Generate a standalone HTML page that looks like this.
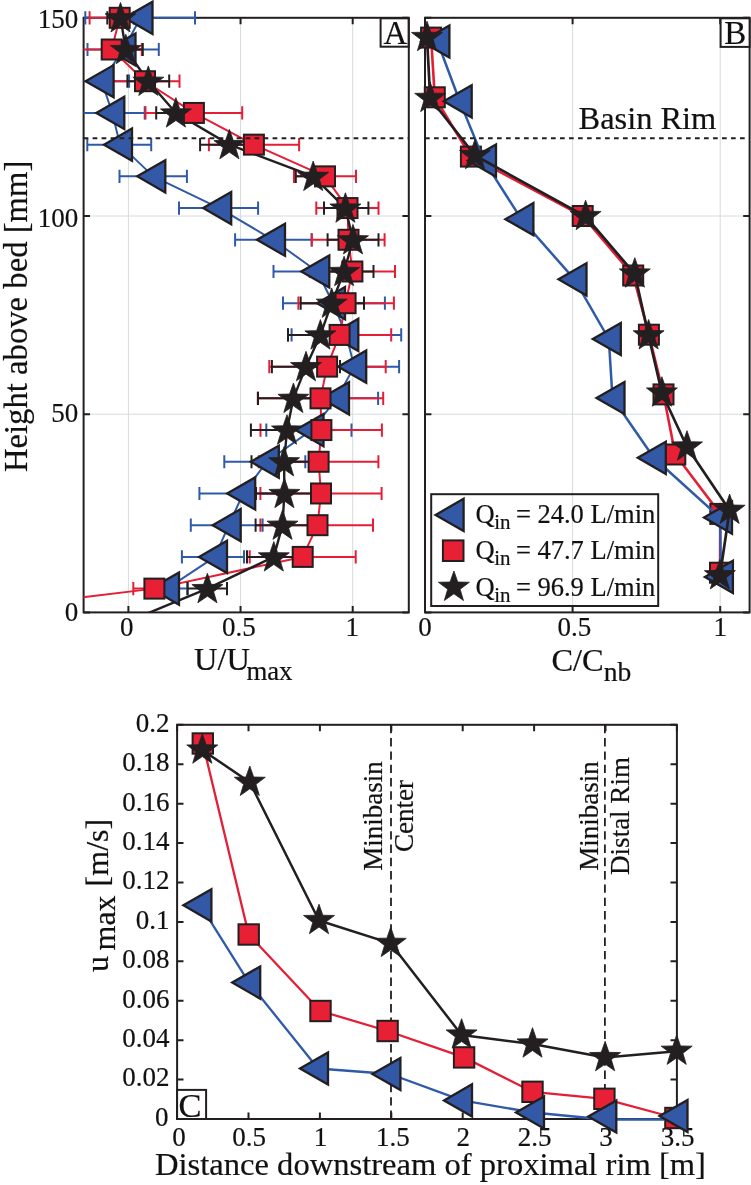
<!DOCTYPE html>
<html><head><meta charset="utf-8"><title>figure</title><style>html,body{margin:0;padding:0;background:#fff;}svg{display:block;will-change:transform;}text{stroke:#111;stroke-width:0.2px;}</style></head><body>
<svg width="751" height="1185" viewBox="0 0 751 1185" font-family="'Liberation Serif', serif" fill="#111">
<rect width="751" height="1185" fill="#fff"/>
<defs><clipPath id="cA"><rect x="83.6" y="0" width="325.2" height="612.4"/></clipPath></defs>
<path d="M128.4,17.8V612.4M240.55,17.8V612.4M352.7,17.8V612.4M572.6,17.8V612.4M720.2,17.8V612.4M83.6,414.2H408.8M425.0,414.2H749.6M83.6,216H408.8M425.0,216H749.6" stroke="#d6dbde" stroke-width="1" fill="none"/>
<rect x="83.6" y="17.8" width="325.2" height="594.6" fill="none" stroke="#231f20" stroke-width="2"/>
<rect x="425.0" y="17.8" width="324.6" height="594.6" fill="none" stroke="#231f20" stroke-width="2"/>
<rect x="177.1" y="724.8" width="499.8" height="394.2" fill="none" stroke="#231f20" stroke-width="2"/>
<path d="M128.4,612.4v-6.4M128.4,17.8v6.4M240.55,612.4v-6.4M240.55,17.8v6.4M352.7,612.4v-6.4M352.7,17.8v6.4M425,612.4v-6.4M425,17.8v6.4M572.6,612.4v-6.4M572.6,17.8v6.4M720.2,612.4v-6.4M720.2,17.8v6.4M83.6,612.4h6.4M408.8,612.4h-6.4M425.0,612.4h6.4M749.6,612.4h-6.4M83.6,414.2h6.4M408.8,414.2h-6.4M425.0,414.2h6.4M749.6,414.2h-6.4M83.6,216h6.4M408.8,216h-6.4M425.0,216h6.4M749.6,216h-6.4M83.6,17.8h6.4M408.8,17.8h-6.4M425.0,17.8h6.4M749.6,17.8h-6.4M177.1,1119.0v-6.4M177.1,724.8v6.4M248.5,1119.0v-6.4M248.5,724.8v6.4M319.9,1119.0v-6.4M319.9,724.8v6.4M391.3,1119.0v-6.4M391.3,724.8v6.4M462.7,1119.0v-6.4M462.7,724.8v6.4M534.1,1119.0v-6.4M534.1,724.8v6.4M605.5,1119.0v-6.4M605.5,724.8v6.4M676.9,1119.0v-6.4M676.9,724.8v6.4M177.1,1119h6.4M676.9,1119h-6.4M177.1,1079.58h6.4M676.9,1079.58h-6.4M177.1,1040.16h6.4M676.9,1040.16h-6.4M177.1,1000.74h6.4M676.9,1000.74h-6.4M177.1,961.32h6.4M676.9,961.32h-6.4M177.1,921.9h6.4M676.9,921.9h-6.4M177.1,882.48h6.4M676.9,882.48h-6.4M177.1,843.06h6.4M676.9,843.06h-6.4M177.1,803.64h6.4M676.9,803.64h-6.4M177.1,764.22h6.4M676.9,764.22h-6.4M177.1,724.8h6.4M676.9,724.8h-6.4" stroke="#231f20" stroke-width="2" fill="none"/>
<text x="78.3" y="27.7" font-size="27" text-anchor="end" >150</text>
<text x="78.3" y="226.9" font-size="27" text-anchor="end" >100</text>
<text x="78.3" y="422.2" font-size="27" text-anchor="end" >50</text>
<text x="78.3" y="620.7" font-size="27" text-anchor="end" >0</text>
<text x="126.8" y="635.9" font-size="27" text-anchor="middle" >0</text>
<text x="238.75" y="635.9" font-size="27" text-anchor="middle" >0.5</text>
<text x="352.3" y="635.9" font-size="27" text-anchor="middle" >1</text>
<text x="425" y="635.9" font-size="27" text-anchor="middle" >0</text>
<text x="574.4" y="635.9" font-size="27" text-anchor="middle" >0.5</text>
<text x="720.2" y="635.9" font-size="27" text-anchor="middle" >1</text>
<text x="168.4" y="1125.9" font-size="27" text-anchor="end" >0</text>
<text x="169.6" y="1086.48" font-size="27" text-anchor="end" >0.02</text>
<text x="169.6" y="1047.06" font-size="27" text-anchor="end" >0.04</text>
<text x="169.6" y="1007.64" font-size="27" text-anchor="end" >0.06</text>
<text x="169.6" y="968.22" font-size="27" text-anchor="end" >0.08</text>
<text x="169.6" y="928.8" font-size="27" text-anchor="end" >0.1</text>
<text x="169.6" y="889.38" font-size="27" text-anchor="end" >0.12</text>
<text x="169.6" y="849.96" font-size="27" text-anchor="end" >0.14</text>
<text x="169.6" y="810.54" font-size="27" text-anchor="end" >0.16</text>
<text x="169.6" y="771.12" font-size="27" text-anchor="end" >0.18</text>
<text x="169.6" y="731.7" font-size="27" text-anchor="end" >0.2</text>
<text x="179.1" y="1146" font-size="27" text-anchor="middle" >0</text>
<text x="249.1" y="1146" font-size="27" text-anchor="middle" >0.5</text>
<text x="320.5" y="1146" font-size="27" text-anchor="middle" >1</text>
<text x="392.8" y="1146" font-size="27" text-anchor="middle" >1.5</text>
<text x="463.3" y="1146" font-size="27" text-anchor="middle" >2</text>
<text x="534.7" y="1146" font-size="27" text-anchor="middle" >2.5</text>
<text x="606.1" y="1146" font-size="27" text-anchor="middle" >3</text>
<text x="677.5" y="1146" font-size="27" text-anchor="middle" >3.5</text>
<path d="M391,724.8V1119.0M604.9,724.8V1119.0" stroke="#231f20" stroke-width="1.8" stroke-dasharray="8.4 4.9" fill="none"/>
<g clip-path="url(#cA)">
<path d="M85.3,17.8H195M85.3,11.2V24.4M195,11.2V24.4" stroke="#2f5aa8" stroke-width="2.0" fill="none"/>
<path d="M87.5,49.51H158.8M87.5,42.91V56.11M158.8,42.91V56.11" stroke="#2f5aa8" stroke-width="2.0" fill="none"/>
<path d="M70,81.22H129.1M70,74.62V87.82M129.1,74.62V87.82" stroke="#2f5aa8" stroke-width="2.0" fill="none"/>
<path d="M76,112.94H144.7M76,106.34V119.54M144.7,106.34V119.54" stroke="#2f5aa8" stroke-width="2.0" fill="none"/>
<path d="M87.3,144.65H151.2M87.3,138.05V151.25M151.2,138.05V151.25" stroke="#2f5aa8" stroke-width="2.0" fill="none"/>
<path d="M119.5,176.36H186.9M119.5,169.76V182.96M186.9,169.76V182.96" stroke="#2f5aa8" stroke-width="2.0" fill="none"/>
<path d="M179,208.07H258.1M179,201.47V214.67M258.1,201.47V214.67" stroke="#2f5aa8" stroke-width="2.0" fill="none"/>
<path d="M235.1,239.78H311.7M235.1,233.18V246.38M311.7,233.18V246.38" stroke="#2f5aa8" stroke-width="2.0" fill="none"/>
<path d="M273.5,271.5H357M273.5,264.9V278.1M357,264.9V278.1" stroke="#2f5aa8" stroke-width="2.0" fill="none"/>
<path d="M283,303.21H384.9M283,296.61V309.81M384.9,296.61V309.81" stroke="#2f5aa8" stroke-width="2.0" fill="none"/>
<path d="M291.6,334.92H401.2M291.6,328.32V341.52M401.2,328.32V341.52" stroke="#2f5aa8" stroke-width="2.0" fill="none"/>
<path d="M305,366.63H399.1M305,360.03V373.23M399.1,360.03V373.23" stroke="#2f5aa8" stroke-width="2.0" fill="none"/>
<path d="M292,398.34H378.1M292,391.74V404.94M378.1,391.74V404.94" stroke="#2f5aa8" stroke-width="2.0" fill="none"/>
<path d="M266.3,430.06H351.5M266.3,423.46V436.66M351.5,423.46V436.66" stroke="#2f5aa8" stroke-width="2.0" fill="none"/>
<path d="M224.3,461.77H305.3M224.3,455.17V468.37M305.3,455.17V468.37" stroke="#2f5aa8" stroke-width="2.0" fill="none"/>
<path d="M199.4,493.48H283M199.4,486.88V500.08M283,486.88V500.08" stroke="#2f5aa8" stroke-width="2.0" fill="none"/>
<path d="M190.8,525.19H262.6M190.8,518.59V531.79M262.6,518.59V531.79" stroke="#2f5aa8" stroke-width="2.0" fill="none"/>
<path d="M181.9,556.9H244M181.9,550.3V563.5M244,550.3V563.5" stroke="#2f5aa8" stroke-width="2.0" fill="none"/>
<path d="M146.6,588.62H187.4M146.6,582.02V595.22M187.4,582.02V595.22" stroke="#2f5aa8" stroke-width="2.0" fill="none"/>
<polyline points="140.5,17.8 123.5,49.51 101.6,81.22 112.3,112.94 120,144.65 153.3,176.36 219.2,208.07 273,239.78 317.3,271.5 333,303.21 346.3,334.92 354.2,366.63 337,398.34 311.5,430.06 266.8,461.77 243.2,493.48 228.7,525.19 215,556.9 167,588.62" fill="none" stroke="#2f5aa8" stroke-width="2" stroke-linejoin="round"/>
<path d="M89.6,17.8H149.8M89.6,11.2V24.4M149.8,11.2V24.4" stroke="#e41e35" stroke-width="2.0" fill="none"/>
<path d="M81.7,49.51H141.8M81.7,42.91V56.11M141.8,42.91V56.11" stroke="#e41e35" stroke-width="2.0" fill="none"/>
<path d="M113,81.22H179.5M113,74.62V87.82M179.5,74.62V87.82" stroke="#e41e35" stroke-width="2.0" fill="none"/>
<path d="M145.5,112.94H242.2M145.5,106.34V119.54M242.2,106.34V119.54" stroke="#e41e35" stroke-width="2.0" fill="none"/>
<path d="M208.9,144.65H299.1M208.9,138.05V151.25M299.1,138.05V151.25" stroke="#e41e35" stroke-width="2.0" fill="none"/>
<path d="M294,176.36H356M294,169.76V182.96M356,169.76V182.96" stroke="#e41e35" stroke-width="2.0" fill="none"/>
<path d="M316.3,208.07H378.5M316.3,201.47V214.67M378.5,201.47V214.67" stroke="#e41e35" stroke-width="2.0" fill="none"/>
<path d="M311.7,239.78H384.6M311.7,233.18V246.38M384.6,233.18V246.38" stroke="#e41e35" stroke-width="2.0" fill="none"/>
<path d="M309.8,271.5H395M309.8,264.9V278.1M395,264.9V278.1" stroke="#e41e35" stroke-width="2.0" fill="none"/>
<path d="M298.4,303.21H393.9M298.4,296.61V309.81M393.9,296.61V309.81" stroke="#e41e35" stroke-width="2.0" fill="none"/>
<path d="M288,334.92H391.2M288,328.32V341.52M391.2,328.32V341.52" stroke="#e41e35" stroke-width="2.0" fill="none"/>
<path d="M269.3,366.63H385.7M269.3,360.03V373.23M385.7,360.03V373.23" stroke="#e41e35" stroke-width="2.0" fill="none"/>
<path d="M257.8,398.34H383.2M257.8,391.74V404.94M383.2,391.74V404.94" stroke="#e41e35" stroke-width="2.0" fill="none"/>
<path d="M260.5,430.06H381.9M260.5,423.46V436.66M381.9,423.46V436.66" stroke="#e41e35" stroke-width="2.0" fill="none"/>
<path d="M258.8,461.77H378.4M258.8,455.17V468.37M378.4,455.17V468.37" stroke="#e41e35" stroke-width="2.0" fill="none"/>
<path d="M260.4,493.48H381.6M260.4,486.88V500.08M381.6,486.88V500.08" stroke="#e41e35" stroke-width="2.0" fill="none"/>
<path d="M260.4,525.19H373M260.4,518.59V531.79M373,518.59V531.79" stroke="#e41e35" stroke-width="2.0" fill="none"/>
<path d="M249.7,556.9H355.7M249.7,550.3V563.5M355.7,550.3V563.5" stroke="#e41e35" stroke-width="2.0" fill="none"/>
<path d="M133.3,588.62H175.5M133.3,582.02V595.22M175.5,582.02V595.22" stroke="#e41e35" stroke-width="2.0" fill="none"/>
<polyline points="-90,617.93 154.4,588.62 302.7,556.9 317.5,525.19 321,493.48 318.6,461.77 321.4,430.06 320.5,398.34 327.1,366.63 339.6,334.92 345.6,303.21 352.4,271.5 348.5,239.78 347.5,208.07 325,176.36 253.9,144.65 193.9,112.94 145,81.22 111.7,49.51 119.7,17.8" fill="none" stroke="#e41e35" stroke-width="2" stroke-linejoin="round"/>
<path d="M107.3,17.8H133.7M107.3,11.2V24.4M133.7,11.2V24.4" stroke="#231f20" stroke-width="2.0" fill="none"/>
<path d="M108.8,49.51H142.8M108.8,42.91V56.11M142.8,42.91V56.11" stroke="#231f20" stroke-width="2.0" fill="none"/>
<path d="M127.4,81.22H169.2M127.4,74.62V87.82M169.2,74.62V87.82" stroke="#231f20" stroke-width="2.0" fill="none"/>
<path d="M156.2,112.94H195.6M156.2,106.34V119.54M195.6,106.34V119.54" stroke="#231f20" stroke-width="2.0" fill="none"/>
<path d="M200.1,144.65H258.7M200.1,138.05V151.25M258.7,138.05V151.25" stroke="#231f20" stroke-width="2.0" fill="none"/>
<path d="M295.8,176.36H330.6M295.8,169.76V182.96M330.6,169.76V182.96" stroke="#231f20" stroke-width="2.0" fill="none"/>
<path d="M324,208.07H368.4M324,201.47V214.67M368.4,201.47V214.67" stroke="#231f20" stroke-width="2.0" fill="none"/>
<path d="M327.6,239.78H378.5M327.6,233.18V246.38M378.5,233.18V246.38" stroke="#231f20" stroke-width="2.0" fill="none"/>
<path d="M314.5,271.5H373.5M314.5,264.9V278.1M373.5,264.9V278.1" stroke="#231f20" stroke-width="2.0" fill="none"/>
<path d="M300.7,303.21H364M300.7,296.61V309.81M364,296.61V309.81" stroke="#231f20" stroke-width="2.0" fill="none"/>
<path d="M288,334.92H352.8M288,328.32V341.52M352.8,328.32V341.52" stroke="#231f20" stroke-width="2.0" fill="none"/>
<path d="M271.9,366.63H340M271.9,360.03V373.23M340,360.03V373.23" stroke="#231f20" stroke-width="2.0" fill="none"/>
<path d="M258,398.34H328.8M258,391.74V404.94M328.8,391.74V404.94" stroke="#231f20" stroke-width="2.0" fill="none"/>
<path d="M250.9,430.06H323M250.9,423.46V436.66M323,423.46V436.66" stroke="#231f20" stroke-width="2.0" fill="none"/>
<path d="M251.5,461.77H316.5M251.5,455.17V468.37M316.5,455.17V468.37" stroke="#231f20" stroke-width="2.0" fill="none"/>
<path d="M256,493.48H312M256,486.88V500.08M312,486.88V500.08" stroke="#231f20" stroke-width="2.0" fill="none"/>
<path d="M255.6,525.19H309.4M255.6,518.59V531.79M309.4,518.59V531.79" stroke="#231f20" stroke-width="2.0" fill="none"/>
<path d="M247,556.9H300.6M247,550.3V563.5M300.6,550.3V563.5" stroke="#231f20" stroke-width="2.0" fill="none"/>
<path d="M187.6,588.62H227M187.6,582.02V595.22M227,582.02V595.22" stroke="#231f20" stroke-width="2.0" fill="none"/>
<polyline points="120.5,17.8 125.8,49.51 148.3,81.22 175.9,112.94 229.4,144.65 313.2,176.36 345.4,208.07 353,239.78 344.1,271.5 331.7,303.21 320.4,334.92 306,366.63 293.4,398.34 287,430.06 284.1,461.77 284.4,493.48 282.5,525.19 273.8,556.9 207.4,588.62 62.2,648.62" fill="none" stroke="#231f20" stroke-width="2.4" stroke-linejoin="round"/>
</g>
<path d="M124.5,17.8L152.5,1.7L152.5,33.9Z" fill="#3359a6" stroke="#231f20" stroke-width="2.3" stroke-miterlimit="10"/>
<path d="M107.5,49.51L135.5,33.41L135.5,65.61Z" fill="#3359a6" stroke="#231f20" stroke-width="2.3" stroke-miterlimit="10"/>
<path d="M85.6,81.22L113.6,65.12L113.6,97.32Z" fill="#3359a6" stroke="#231f20" stroke-width="2.3" stroke-miterlimit="10"/>
<path d="M96.3,112.94L124.3,96.84L124.3,129.04Z" fill="#3359a6" stroke="#231f20" stroke-width="2.3" stroke-miterlimit="10"/>
<path d="M104,144.65L132,128.55L132,160.75Z" fill="#3359a6" stroke="#231f20" stroke-width="2.3" stroke-miterlimit="10"/>
<path d="M137.3,176.36L165.3,160.26L165.3,192.46Z" fill="#3359a6" stroke="#231f20" stroke-width="2.3" stroke-miterlimit="10"/>
<path d="M203.2,208.07L231.2,191.97L231.2,224.17Z" fill="#3359a6" stroke="#231f20" stroke-width="2.3" stroke-miterlimit="10"/>
<path d="M257,239.78L285,223.68L285,255.88Z" fill="#3359a6" stroke="#231f20" stroke-width="2.3" stroke-miterlimit="10"/>
<path d="M301.3,271.5L329.3,255.4L329.3,287.6Z" fill="#3359a6" stroke="#231f20" stroke-width="2.3" stroke-miterlimit="10"/>
<path d="M317,303.21L345,287.11L345,319.31Z" fill="#3359a6" stroke="#231f20" stroke-width="2.3" stroke-miterlimit="10"/>
<path d="M330.3,334.92L358.3,318.82L358.3,351.02Z" fill="#3359a6" stroke="#231f20" stroke-width="2.3" stroke-miterlimit="10"/>
<path d="M338.2,366.63L366.2,350.53L366.2,382.73Z" fill="#3359a6" stroke="#231f20" stroke-width="2.3" stroke-miterlimit="10"/>
<path d="M321,398.34L349,382.24L349,414.44Z" fill="#3359a6" stroke="#231f20" stroke-width="2.3" stroke-miterlimit="10"/>
<path d="M295.5,430.06L323.5,413.96L323.5,446.16Z" fill="#3359a6" stroke="#231f20" stroke-width="2.3" stroke-miterlimit="10"/>
<path d="M250.8,461.77L278.8,445.67L278.8,477.87Z" fill="#3359a6" stroke="#231f20" stroke-width="2.3" stroke-miterlimit="10"/>
<path d="M227.2,493.48L255.2,477.38L255.2,509.58Z" fill="#3359a6" stroke="#231f20" stroke-width="2.3" stroke-miterlimit="10"/>
<path d="M212.7,525.19L240.7,509.09L240.7,541.29Z" fill="#3359a6" stroke="#231f20" stroke-width="2.3" stroke-miterlimit="10"/>
<path d="M199,556.9L227,540.8L227,573Z" fill="#3359a6" stroke="#231f20" stroke-width="2.3" stroke-miterlimit="10"/>
<path d="M151,588.62L179,572.52L179,604.72Z" fill="#3359a6" stroke="#231f20" stroke-width="2.3" stroke-miterlimit="10"/>
<rect x="109.7" y="7.8" width="20" height="20" fill="#e82036" stroke="#231f20" stroke-width="2.0"/>
<rect x="101.7" y="39.51" width="20" height="20" fill="#e82036" stroke="#231f20" stroke-width="2.0"/>
<rect x="135" y="71.22" width="20" height="20" fill="#e82036" stroke="#231f20" stroke-width="2.0"/>
<rect x="183.9" y="102.94" width="20" height="20" fill="#e82036" stroke="#231f20" stroke-width="2.0"/>
<rect x="243.9" y="134.65" width="20" height="20" fill="#e82036" stroke="#231f20" stroke-width="2.0"/>
<rect x="315" y="166.36" width="20" height="20" fill="#e82036" stroke="#231f20" stroke-width="2.0"/>
<rect x="337.5" y="198.07" width="20" height="20" fill="#e82036" stroke="#231f20" stroke-width="2.0"/>
<rect x="338.5" y="229.78" width="20" height="20" fill="#e82036" stroke="#231f20" stroke-width="2.0"/>
<rect x="342.4" y="261.5" width="20" height="20" fill="#e82036" stroke="#231f20" stroke-width="2.0"/>
<rect x="335.6" y="293.21" width="20" height="20" fill="#e82036" stroke="#231f20" stroke-width="2.0"/>
<rect x="329.6" y="324.92" width="20" height="20" fill="#e82036" stroke="#231f20" stroke-width="2.0"/>
<rect x="317.1" y="356.63" width="20" height="20" fill="#e82036" stroke="#231f20" stroke-width="2.0"/>
<rect x="310.5" y="388.34" width="20" height="20" fill="#e82036" stroke="#231f20" stroke-width="2.0"/>
<rect x="311.4" y="420.06" width="20" height="20" fill="#e82036" stroke="#231f20" stroke-width="2.0"/>
<rect x="308.6" y="451.77" width="20" height="20" fill="#e82036" stroke="#231f20" stroke-width="2.0"/>
<rect x="311" y="483.48" width="20" height="20" fill="#e82036" stroke="#231f20" stroke-width="2.0"/>
<rect x="307.5" y="515.19" width="20" height="20" fill="#e82036" stroke="#231f20" stroke-width="2.0"/>
<rect x="292.7" y="546.9" width="20" height="20" fill="#e82036" stroke="#231f20" stroke-width="2.0"/>
<rect x="144.4" y="578.62" width="20" height="20" fill="#e82036" stroke="#231f20" stroke-width="2.0"/>
<polygon points="120.5,2.5 124.33,13.53 136,13.76 126.7,20.81 130.08,31.99 120.5,25.32 110.92,31.99 114.3,20.81 105,13.76 116.67,13.53" fill="#231f20" stroke="#231f20" stroke-width="0.8"/>
<polygon points="125.8,34.21 129.63,45.24 141.3,45.48 132,52.53 135.38,63.7 125.8,57.03 116.22,63.7 119.6,52.53 110.3,45.48 121.97,45.24" fill="#231f20" stroke="#231f20" stroke-width="0.8"/>
<polygon points="148.3,65.92 152.13,76.95 163.8,77.19 154.5,84.24 157.88,95.41 148.3,88.74 138.72,95.41 142.1,84.24 132.8,77.19 144.47,76.95" fill="#231f20" stroke="#231f20" stroke-width="0.8"/>
<polygon points="175.9,97.64 179.73,108.66 191.4,108.9 182.1,115.95 185.48,127.12 175.9,120.46 166.32,127.12 169.7,115.95 160.4,108.9 172.07,108.66" fill="#231f20" stroke="#231f20" stroke-width="0.8"/>
<polygon points="229.4,129.35 233.23,140.37 244.9,140.61 235.6,147.66 238.98,158.83 229.4,152.17 219.82,158.83 223.2,147.66 213.9,140.61 225.57,140.37" fill="#231f20" stroke="#231f20" stroke-width="0.8"/>
<polygon points="313.2,161.06 317.03,172.09 328.7,172.32 319.4,179.37 322.78,190.55 313.2,183.88 303.62,190.55 307,179.37 297.7,172.32 309.37,172.09" fill="#231f20" stroke="#231f20" stroke-width="0.8"/>
<polygon points="345.4,192.77 349.23,203.8 360.9,204.04 351.6,211.09 354.98,222.26 345.4,215.59 335.82,222.26 339.2,211.09 329.9,204.04 341.57,203.8" fill="#231f20" stroke="#231f20" stroke-width="0.8"/>
<polygon points="353,224.48 356.83,235.51 368.5,235.75 359.2,242.8 362.58,253.97 353,247.3 343.42,253.97 346.8,242.8 337.5,235.75 349.17,235.51" fill="#231f20" stroke="#231f20" stroke-width="0.8"/>
<polygon points="344.1,256.2 347.93,267.22 359.6,267.46 350.3,274.51 353.68,285.68 344.1,279.02 334.52,285.68 337.9,274.51 328.6,267.46 340.27,267.22" fill="#231f20" stroke="#231f20" stroke-width="0.8"/>
<polygon points="331.7,287.91 335.53,298.93 347.2,299.17 337.9,306.22 341.28,317.39 331.7,310.73 322.12,317.39 325.5,306.22 316.2,299.17 327.87,298.93" fill="#231f20" stroke="#231f20" stroke-width="0.8"/>
<polygon points="320.4,319.62 324.23,330.65 335.9,330.88 326.6,337.93 329.98,349.11 320.4,342.44 310.82,349.11 314.2,337.93 304.9,330.88 316.57,330.65" fill="#231f20" stroke="#231f20" stroke-width="0.8"/>
<polygon points="306,351.33 309.83,362.36 321.5,362.6 312.2,369.65 315.58,380.82 306,374.15 296.42,380.82 299.8,369.65 290.5,362.6 302.17,362.36" fill="#231f20" stroke="#231f20" stroke-width="0.8"/>
<polygon points="293.4,383.04 297.23,394.07 308.9,394.31 299.6,401.36 302.98,412.53 293.4,405.86 283.82,412.53 287.2,401.36 277.9,394.31 289.57,394.07" fill="#231f20" stroke="#231f20" stroke-width="0.8"/>
<polygon points="287,414.76 290.83,425.78 302.5,426.02 293.2,433.07 296.58,444.24 287,437.58 277.42,444.24 280.8,433.07 271.5,426.02 283.17,425.78" fill="#231f20" stroke="#231f20" stroke-width="0.8"/>
<polygon points="284.1,446.47 287.93,457.49 299.6,457.73 290.3,464.78 293.68,475.95 284.1,469.29 274.52,475.95 277.9,464.78 268.6,457.73 280.27,457.49" fill="#231f20" stroke="#231f20" stroke-width="0.8"/>
<polygon points="284.4,478.18 288.23,489.21 299.9,489.44 290.6,496.49 293.98,507.67 284.4,501 274.82,507.67 278.2,496.49 268.9,489.44 280.57,489.21" fill="#231f20" stroke="#231f20" stroke-width="0.8"/>
<polygon points="282.5,509.89 286.33,520.92 298,521.16 288.7,528.21 292.08,539.38 282.5,532.71 272.92,539.38 276.3,528.21 267,521.16 278.67,520.92" fill="#231f20" stroke="#231f20" stroke-width="0.8"/>
<polygon points="273.8,541.6 277.63,552.63 289.3,552.87 280,559.92 283.38,571.09 273.8,564.42 264.22,571.09 267.6,559.92 258.3,552.87 269.97,552.63" fill="#231f20" stroke="#231f20" stroke-width="0.8"/>
<polygon points="207.4,573.32 211.23,584.34 222.9,584.58 213.6,591.63 216.98,602.8 207.4,596.14 197.82,602.8 201.2,591.63 191.9,584.58 203.57,584.34" fill="#231f20" stroke="#231f20" stroke-width="0.8"/>
<polyline points="431.1,37.6 434.8,97.3 470.9,156.6 582.7,216 633.2,275.5 648.9,334.7 663.5,394.4 675.3,454.5 720.3,513.9 720,572.7" fill="none" stroke="#e41e35" stroke-width="2.6" stroke-linejoin="round"/>
<rect x="421.1" y="27.6" width="20" height="20" fill="#e82036" stroke="#231f20" stroke-width="2.0"/>
<rect x="424.8" y="87.3" width="20" height="20" fill="#e82036" stroke="#231f20" stroke-width="2.0"/>
<rect x="460.9" y="146.6" width="20" height="20" fill="#e82036" stroke="#231f20" stroke-width="2.0"/>
<rect x="572.7" y="206" width="20" height="20" fill="#e82036" stroke="#231f20" stroke-width="2.0"/>
<rect x="623.2" y="265.5" width="20" height="20" fill="#e82036" stroke="#231f20" stroke-width="2.0"/>
<rect x="638.9" y="324.7" width="20" height="20" fill="#e82036" stroke="#231f20" stroke-width="2.0"/>
<rect x="653.5" y="384.4" width="20" height="20" fill="#e82036" stroke="#231f20" stroke-width="2.0"/>
<rect x="665.3" y="444.5" width="20" height="20" fill="#e82036" stroke="#231f20" stroke-width="2.0"/>
<rect x="710.3" y="503.9" width="20" height="20" fill="#e82036" stroke="#231f20" stroke-width="2.0"/>
<rect x="710" y="562.7" width="20" height="20" fill="#e82036" stroke="#231f20" stroke-width="2.0"/>
<polyline points="437.4,41.5 459.7,101.3 484,160.6 521.4,219.2 574.5,279.3 608.8,339 612.5,398 653.8,457.8 720,517.6 720.9,576.9" fill="none" stroke="#2f5aa8" stroke-width="2.5" stroke-linejoin="round"/>
<path d="M421.4,41.5L449.4,25.4L449.4,57.6Z" fill="#3359a6" stroke="#231f20" stroke-width="2.3" stroke-miterlimit="10"/>
<path d="M443.7,101.3L471.7,85.2L471.7,117.4Z" fill="#3359a6" stroke="#231f20" stroke-width="2.3" stroke-miterlimit="10"/>
<path d="M468,160.6L496,144.5L496,176.7Z" fill="#3359a6" stroke="#231f20" stroke-width="2.3" stroke-miterlimit="10"/>
<path d="M505.4,219.2L533.4,203.1L533.4,235.3Z" fill="#3359a6" stroke="#231f20" stroke-width="2.3" stroke-miterlimit="10"/>
<path d="M558.5,279.3L586.5,263.2L586.5,295.4Z" fill="#3359a6" stroke="#231f20" stroke-width="2.3" stroke-miterlimit="10"/>
<path d="M592.8,339L620.8,322.9L620.8,355.1Z" fill="#3359a6" stroke="#231f20" stroke-width="2.3" stroke-miterlimit="10"/>
<path d="M596.5,398L624.5,381.9L624.5,414.1Z" fill="#3359a6" stroke="#231f20" stroke-width="2.3" stroke-miterlimit="10"/>
<path d="M637.8,457.8L665.8,441.7L665.8,473.9Z" fill="#3359a6" stroke="#231f20" stroke-width="2.3" stroke-miterlimit="10"/>
<path d="M704,517.6L732,501.5L732,533.7Z" fill="#3359a6" stroke="#231f20" stroke-width="2.3" stroke-miterlimit="10"/>
<path d="M704.9,576.9L732.9,560.8L732.9,593Z" fill="#3359a6" stroke="#231f20" stroke-width="2.3" stroke-miterlimit="10"/>
<polyline points="427,37.5 430.2,98.4 475,155.5 585.6,216.5 634.8,274 648.6,335.8 661.9,393 687,447 729.6,510.3 719.9,575.7" fill="none" stroke="#231f20" stroke-width="2.7" stroke-linejoin="round"/>
<polygon points="427,21.2 430.83,32.23 442.5,32.46 433.2,39.51 436.58,50.69 427,44.02 417.42,50.69 420.8,39.51 411.5,32.46 423.17,32.23" fill="#231f20" stroke="#231f20" stroke-width="0.8"/>
<polygon points="430.2,82.1 434.03,93.13 445.7,93.36 436.4,100.41 439.78,111.59 430.2,104.92 420.62,111.59 424,100.41 414.7,93.36 426.37,93.13" fill="#231f20" stroke="#231f20" stroke-width="0.8"/>
<polygon points="475,139.2 478.83,150.23 490.5,150.46 481.2,157.51 484.58,168.69 475,162.02 465.42,168.69 468.8,157.51 459.5,150.46 471.17,150.23" fill="#231f20" stroke="#231f20" stroke-width="0.8"/>
<polygon points="585.6,200.2 589.43,211.23 601.1,211.46 591.8,218.51 595.18,229.69 585.6,223.02 576.02,229.69 579.4,218.51 570.1,211.46 581.77,211.23" fill="#231f20" stroke="#231f20" stroke-width="0.8"/>
<polygon points="634.8,257.7 638.63,268.73 650.3,268.96 641,276.01 644.38,287.19 634.8,280.52 625.22,287.19 628.6,276.01 619.3,268.96 630.97,268.73" fill="#231f20" stroke="#231f20" stroke-width="0.8"/>
<polygon points="648.6,319.5 652.43,330.53 664.1,330.76 654.8,337.81 658.18,348.99 648.6,342.32 639.02,348.99 642.4,337.81 633.1,330.76 644.77,330.53" fill="#231f20" stroke="#231f20" stroke-width="0.8"/>
<polygon points="661.9,376.7 665.73,387.73 677.4,387.96 668.1,395.01 671.48,406.19 661.9,399.52 652.32,406.19 655.7,395.01 646.4,387.96 658.07,387.73" fill="#231f20" stroke="#231f20" stroke-width="0.8"/>
<polygon points="687,430.7 690.83,441.73 702.5,441.96 693.2,449.01 696.58,460.19 687,453.52 677.42,460.19 680.8,449.01 671.5,441.96 683.17,441.73" fill="#231f20" stroke="#231f20" stroke-width="0.8"/>
<polygon points="729.6,494 733.43,505.03 745.1,505.26 735.8,512.31 739.18,523.49 729.6,516.82 720.02,523.49 723.4,512.31 714.1,505.26 725.77,505.03" fill="#231f20" stroke="#231f20" stroke-width="0.8"/>
<polygon points="719.9,559.4 723.73,570.43 735.4,570.66 726.1,577.71 729.48,588.89 719.9,582.22 710.32,588.89 713.7,577.71 704.4,570.66 716.07,570.43" fill="#231f20" stroke="#231f20" stroke-width="0.8"/>
<path d="M83.6,138.3H408.8M425.0,138.3H749.6" stroke="#231f20" stroke-width="2" stroke-dasharray="4.7 4.3" fill="none"/>
<polyline points="202.8,743.5 248.7,934.5 320.5,1011 387.6,1031 464.1,1057.4 532.5,1091.8 604.4,1098.8 675.4,1118" fill="none" stroke="#e41e35" stroke-width="2.3" stroke-linejoin="round"/>
<rect x="192.6" y="733.3" width="20.4" height="20.4" fill="#e82036" stroke="#231f20" stroke-width="2.0"/>
<rect x="238.5" y="924.3" width="20.4" height="20.4" fill="#e82036" stroke="#231f20" stroke-width="2.0"/>
<rect x="310.3" y="1000.8" width="20.4" height="20.4" fill="#e82036" stroke="#231f20" stroke-width="2.0"/>
<rect x="377.4" y="1020.8" width="20.4" height="20.4" fill="#e82036" stroke="#231f20" stroke-width="2.0"/>
<rect x="453.9" y="1047.2" width="20.4" height="20.4" fill="#e82036" stroke="#231f20" stroke-width="2.0"/>
<rect x="522.3" y="1081.6" width="20.4" height="20.4" fill="#e82036" stroke="#231f20" stroke-width="2.0"/>
<rect x="594.2" y="1088.6" width="20.4" height="20.4" fill="#e82036" stroke="#231f20" stroke-width="2.0"/>
<rect x="665.2" y="1107.8" width="20.4" height="20.4" fill="#e82036" stroke="#231f20" stroke-width="2.0"/>
<polyline points="200.5,905.3 249,982.6 318,1068.5 390,1074 462,1100.4 533,1112.5 605,1119.5 677,1119.5" fill="none" stroke="#2f5aa8" stroke-width="2.3" stroke-linejoin="round"/>
<path d="M183.4,905.3L211.4,889.2L211.4,921.4Z" fill="#3359a6" stroke="#231f20" stroke-width="2.3" stroke-miterlimit="10"/>
<path d="M232.2,982.6L260.2,966.5L260.2,998.7Z" fill="#3359a6" stroke="#231f20" stroke-width="2.3" stroke-miterlimit="10"/>
<path d="M300,1068.5L328,1052.4L328,1084.6Z" fill="#3359a6" stroke="#231f20" stroke-width="2.3" stroke-miterlimit="10"/>
<path d="M372.4,1074L400.4,1057.9L400.4,1090.1Z" fill="#3359a6" stroke="#231f20" stroke-width="2.3" stroke-miterlimit="10"/>
<path d="M444,1100.4L472,1084.3L472,1116.5Z" fill="#3359a6" stroke="#231f20" stroke-width="2.3" stroke-miterlimit="10"/>
<path d="M516,1112.5L544,1096.4L544,1128.6Z" fill="#3359a6" stroke="#231f20" stroke-width="2.3" stroke-miterlimit="10"/>
<path d="M588.3,1116.5L616.3,1100.4L616.3,1132.6Z" fill="#3359a6" stroke="#231f20" stroke-width="2.3" stroke-miterlimit="10"/>
<path d="M659.5,1116L687.5,1099.9L687.5,1132.1Z" fill="#3359a6" stroke="#231f20" stroke-width="2.3" stroke-miterlimit="10"/>
<polyline points="202.3,750 249.8,782.3 319,920.5 390.7,943.4 461.6,1035 532.5,1044 605.1,1057.6 676.7,1051.2" fill="none" stroke="#231f20" stroke-width="2.5" stroke-linejoin="round"/>
<polygon points="202.3,733.7 206.13,744.73 217.8,744.96 208.5,752.01 211.88,763.19 202.3,756.52 192.72,763.19 196.1,752.01 186.8,744.96 198.47,744.73" fill="#231f20" stroke="#231f20" stroke-width="0.8"/>
<polygon points="249.8,766 253.63,777.03 265.3,777.26 256,784.31 259.38,795.49 249.8,788.82 240.22,795.49 243.6,784.31 234.3,777.26 245.97,777.03" fill="#231f20" stroke="#231f20" stroke-width="0.8"/>
<polygon points="319,904.2 322.83,915.23 334.5,915.46 325.2,922.51 328.58,933.69 319,927.02 309.42,933.69 312.8,922.51 303.5,915.46 315.17,915.23" fill="#231f20" stroke="#231f20" stroke-width="0.8"/>
<polygon points="390.7,927.1 394.53,938.13 406.2,938.36 396.9,945.41 400.28,956.59 390.7,949.92 381.12,956.59 384.5,945.41 375.2,938.36 386.87,938.13" fill="#231f20" stroke="#231f20" stroke-width="0.8"/>
<polygon points="461.6,1018.7 465.43,1029.73 477.1,1029.96 467.8,1037.01 471.18,1048.19 461.6,1041.52 452.02,1048.19 455.4,1037.01 446.1,1029.96 457.77,1029.73" fill="#231f20" stroke="#231f20" stroke-width="0.8"/>
<polygon points="532.5,1027.7 536.33,1038.73 548,1038.96 538.7,1046.01 542.08,1057.19 532.5,1050.52 522.92,1057.19 526.3,1046.01 517,1038.96 528.67,1038.73" fill="#231f20" stroke="#231f20" stroke-width="0.8"/>
<polygon points="605.1,1041.3 608.93,1052.33 620.6,1052.56 611.3,1059.61 614.68,1070.79 605.1,1064.12 595.52,1070.79 598.9,1059.61 589.6,1052.56 601.27,1052.33" fill="#231f20" stroke="#231f20" stroke-width="0.8"/>
<polygon points="676.7,1034.9 680.53,1045.93 692.2,1046.16 682.9,1053.21 686.28,1064.39 676.7,1057.72 667.12,1064.39 670.5,1053.21 661.2,1046.16 672.87,1045.93" fill="#231f20" stroke="#231f20" stroke-width="0.8"/>
<text transform="translate(26.8,316.4) rotate(-90)" font-size="32.7" text-anchor="middle">Height above bed [mm]</text>
<text x="194" y="669.6" font-size="32.5">U/U<tspan font-size="26.8" dy="10.2" dx="-3.6">max</tspan></text>
<text x="551.4" y="670.8" font-size="32.5">C/C<tspan font-size="27.6" dy="10.6" dx="0">nb</tspan></text>
<text x="155" y="1174.7" font-size="32.6">Distance downstream of proximal rim [m]</text>
<text transform="translate(108,972) rotate(-90)" font-size="32">u<tspan dy="7" dx="5.5">max</tspan><tspan dy="-7" dx="1"> [m/s]</tspan></text>
<text x="578.6" y="128.6" font-size="32.4">Basin Rim</text>
<text transform="translate(381.9,816) rotate(-90)" font-size="27" text-anchor="middle">Minibasin</text>
<text transform="translate(413,816) rotate(-90)" font-size="27" text-anchor="middle">Center</text>
<text transform="translate(597.6,816) rotate(-90)" font-size="27" text-anchor="middle">Minibasin</text>
<text transform="translate(629.2,816) rotate(-90)" font-size="27" text-anchor="middle">Distal Rim</text>
<rect x="380.6" y="18.3" width="28" height="28.4" fill="#fff" stroke="#231f20" stroke-width="2"/>
<text x="395.5" y="43.5" font-size="33" text-anchor="middle" >A</text>
<rect x="720.6" y="18.3" width="29" height="28.6" fill="#fff" stroke="#231f20" stroke-width="2"/>
<text x="735.2" y="43.6" font-size="33" text-anchor="middle" >B</text>
<rect x="177.1" y="1089.9" width="29" height="29.1" fill="#fff" stroke="#231f20" stroke-width="2"/>
<text x="190" y="1116.8" font-size="34.5" text-anchor="middle" >C</text>
<rect x="431.2" y="494.2" width="227" height="111.8" fill="none" stroke="#231f20" stroke-width="2"/>
<path d="M435.6,514.9L463.6,498.8L463.6,531Z" fill="#3359a6" stroke="#231f20" stroke-width="2.3" stroke-miterlimit="10"/>
<rect x="442.9" y="540.4" width="20.6" height="20.6" fill="#e82036" stroke="#231f20" stroke-width="2.0"/>
<polygon points="453.9,571 457.73,582.03 469.4,582.26 460.1,589.31 463.48,600.49 453.9,593.82 444.32,600.49 447.7,589.31 438.4,582.26 450.07,582.03" fill="#231f20" stroke="#231f20" stroke-width="0.8"/>
<text x="475.5" y="522.5" font-size="26.5">Q<tspan font-size="21" dy="6.2" dx="-0.5">in</tspan><tspan dy="-6.2" dx="-1.2"> = 24.0 L/min</tspan></text>
<text x="475.5" y="559.1" font-size="26.5">Q<tspan font-size="21" dy="6.2" dx="-0.5">in</tspan><tspan dy="-6.2" dx="-1.2"> = 47.7 L/min</tspan></text>
<text x="475.5" y="595.7" font-size="26.5">Q<tspan font-size="21" dy="6.2" dx="-0.5">in</tspan><tspan dy="-6.2" dx="-1.2"> = 96.9 L/min</tspan></text>
</svg>
</body></html>
